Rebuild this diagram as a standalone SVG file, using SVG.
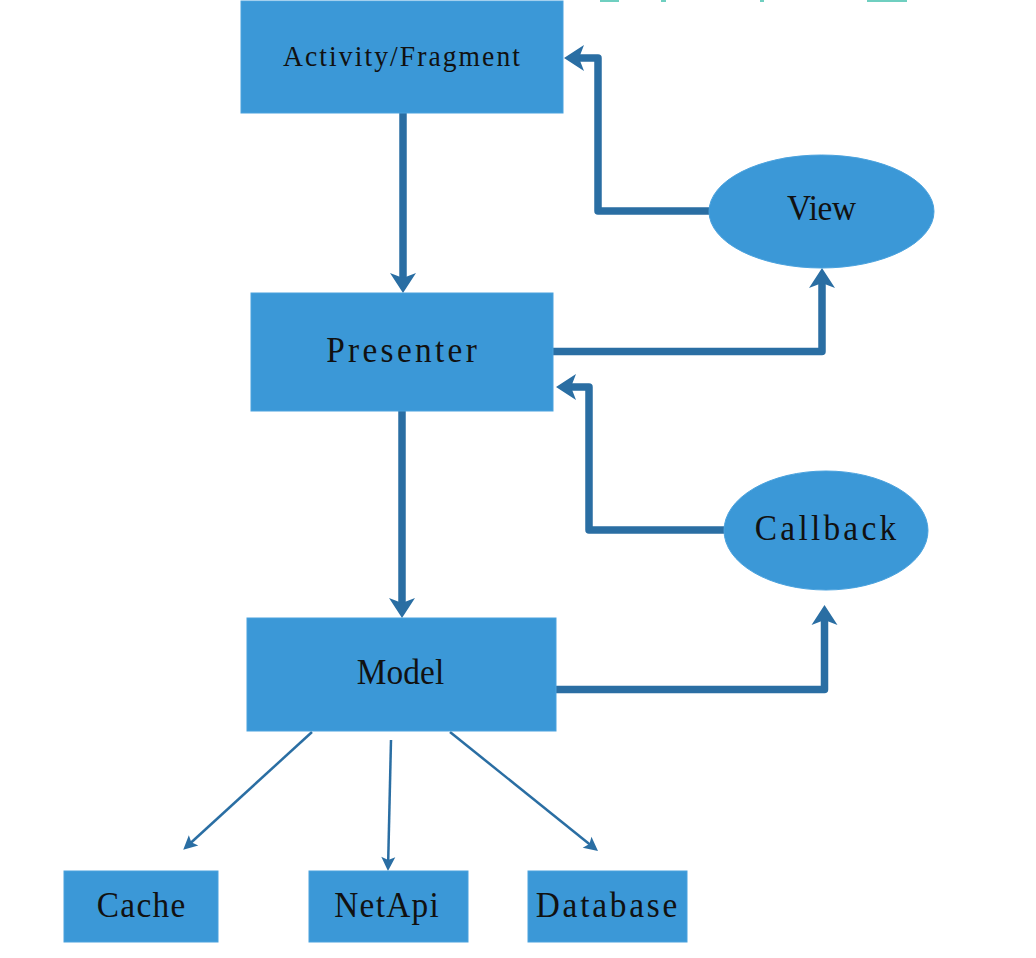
<svg xmlns="http://www.w3.org/2000/svg" width="1036" height="958" viewBox="0 0 1036 958">
  <style>
    .box { fill: #3b98d7; stroke: #4aa2de; stroke-width: 1; }
    .lbl { font-family: "Liberation Serif", "DejaVu Serif", serif; fill: #111; text-anchor: middle; }
    .thick { fill: none; stroke: #2a6ea3; stroke-width: 7.5; stroke-linejoin: round; }
    .thin { fill: none; stroke: #2a6ea3; stroke-width: 2.5; }
    .head { fill: #2a6ea3; }
    .frag { fill: #6fcfc0; }
  </style>
  <defs>
    <!-- line ends 14px short of the tip; head covers the butt end -->
    <marker id="bigHead" markerUnits="userSpaceOnUse" markerWidth="24" markerHeight="26" refX="6" refY="13" orient="auto" overflow="visible">
      <path class="head" d="M0,0 L20,13 L0,26 L5,13 Z"/>
    </marker>
    <marker id="smallHead" markerUnits="userSpaceOnUse" markerWidth="16" markerHeight="14" refX="4" refY="7" orient="auto" overflow="visible">
      <path class="head" d="M0,0 L14,7 L0,14 L3,7 Z"/>
    </marker>
  </defs>

  <rect width="1036" height="958" fill="#ffffff"/>

  <!-- clipped strokes of a heading above the frame -->
  <g id="heading-remnant">
    <rect class="frag" x="600" y="0" width="19" height="2"/>
    <rect class="frag" x="661" y="0" width="5" height="2"/>
    <rect class="frag" x="760" y="0" width="4" height="2"/>
    <rect class="frag" x="867" y="0" width="40" height="2"/>
  </g>

  <g id="connectors">
    <!-- Activity/Fragment -> Presenter -->
    <path class="thick" d="M403,113 L403,279" marker-end="url(#bigHead)"/>
    <!-- Presenter -> Model -->
    <path class="thick" d="M402,411 L402,604" marker-end="url(#bigHead)"/>
    <!-- View -> Activity/Fragment -->
    <path class="thick" d="M710,211 L598,211 L598,58 L578,58" marker-end="url(#bigHead)"/>
    <!-- Presenter -> View -->
    <path class="thick" d="M553,351.5 L822,351.5 L822,282" marker-end="url(#bigHead)"/>
    <!-- Callback -> Presenter -->
    <path class="thick" d="M725,530 L589,530 L589,387 L570,387" marker-end="url(#bigHead)"/>
    <!-- Model -> Callback -->
    <path class="thick" d="M556,689.5 L824.5,689.5 L824.5,619" marker-end="url(#bigHead)"/>
    <!-- Model -> Cache / NetApi / Database -->
    <path class="thin" d="M312,732 L190.6,843" marker-end="url(#smallHead)"/>
    <path class="thin" d="M391,740 L388.2,861" marker-end="url(#smallHead)"/>
    <path class="thin" d="M450,732 L590.2,844.7" marker-end="url(#smallHead)"/>
  </g>

  <g id="activity-fragment">
    <rect class="box" x="241" y="1" width="322" height="112"/>
    <text class="lbl" font-size="24" textLength="206" lengthAdjust="spacing" transform="translate(401.5,66) scale(1.15,1.2)">Activity/Fragment</text>
  </g>

  <g id="presenter">
    <rect class="box" x="251" y="293" width="302" height="118"/>
    <text class="lbl" font-size="29" textLength="131" lengthAdjust="spacing" transform="translate(401.5,362) scale(1.15,1.2)">Presenter</text>
  </g>

  <g id="model">
    <rect class="box" x="247" y="618" width="309" height="113"/>
    <text class="lbl" font-size="29" textLength="76" lengthAdjust="spacing" transform="translate(400.5,684) scale(1.15,1.2)">Model</text>
  </g>

  <g id="view">
    <ellipse class="box" cx="821.5" cy="211.5" rx="112.5" ry="56.5"/>
    <text class="lbl" font-size="29" textLength="60" lengthAdjust="spacing" transform="translate(821.5,220) scale(1.15,1.2)">View</text>
  </g>

  <g id="callback">
    <ellipse class="box" cx="826" cy="530.5" rx="102" ry="59.5"/>
    <text class="lbl" font-size="29" textLength="123" lengthAdjust="spacing" transform="translate(825.5,540) scale(1.15,1.2)">Callback</text>
  </g>

  <g id="cache">
    <rect class="box" x="64" y="871" width="154" height="71"/>
    <text class="lbl" font-size="29" textLength="77" lengthAdjust="spacing" transform="translate(141,917) scale(1.15,1.2)">Cache</text>
  </g>

  <g id="netapi">
    <rect class="box" x="309" y="871" width="159" height="71"/>
    <text class="lbl" font-size="29" textLength="91" lengthAdjust="spacing" transform="translate(386.5,917) scale(1.15,1.2)">NetApi</text>
  </g>

  <g id="database">
    <rect class="box" x="528" y="871" width="159" height="71"/>
    <text class="lbl" font-size="29" textLength="123" lengthAdjust="spacing" transform="translate(606.5,917) scale(1.15,1.2)">Database</text>
  </g>
</svg>
